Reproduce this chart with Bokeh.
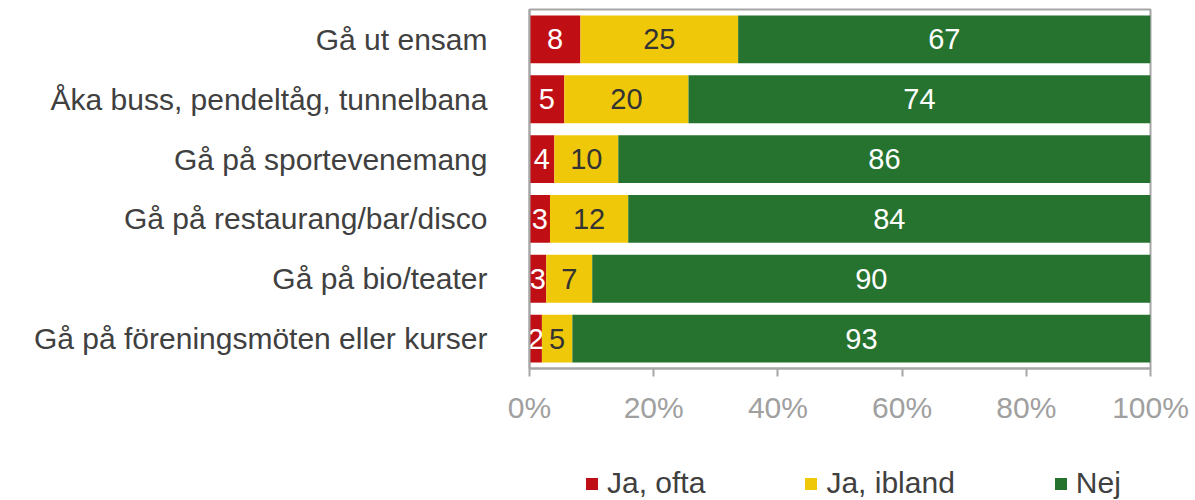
from bokeh.plotting import figure
from bokeh.layouts import column
from bokeh.models import (ColumnDataSource, FactorRange, Range1d, FixedTicker, Legend,
                          LegendItem)
from bokeh.core.properties import value
from bokeh.embed import file_html
from bokeh.resources import INLINE

categories = [
    "Gå ut ensam",
    "Åka buss, pendeltåg, tunnelbana",
    "Gå på sportevenemang",
    "Gå på restaurang/bar/disco",
    "Gå på bio/teater",
    "Gå på föreningsmöten eller kurser",
]
series_names = ["Ja, ofta", "Ja, ibland", "Nej"]
ja_ofta = [8.2, 5.6, 4.0, 3.3, 2.7, 2.0]
ja_ibland = [25.4, 20.0, 10.3, 12.6, 7.4, 4.9]
nej = [66.4, 74.4, 85.7, 84.1, 89.9, 93.1]
ja_ofta_labels = ["8", "5", "4", "3", "3", "2"]
ja_ibland_labels = ["25", "20", "10", "12", "7", "5"]
nej_labels = ["67", "74", "86", "84", "90", "93"]
tick_values = [0, 20, 40, 60, 80, 100]
tick_labels = ["0%", "20%", "40%", "60%", "80%", "100%"]

colors = ["#C00F14", "#F0C80A", "#267330"]
FONT = "Liberation Sans"

source = ColumnDataSource(dict(cat=categories, ja_ofta=ja_ofta, ja_ibland=ja_ibland, nej=nej))

p = figure(
    frame_width=621, frame_height=359,
    y_range=FactorRange(*reversed(categories)),
    x_range=Range1d(0, 100),
    output_backend="svg", toolbar_location=None,
    min_border_left=529, min_border_right=45, min_border_top=9, min_border_bottom=72,
)

p.hbar_stack(["ja_ofta", "ja_ibland", "nej"], y="cat", height=0.8,
             color=colors, line_color=None, source=source)

# data labels
lx, ly, lt, lc = [], [], [], []
for i, c in enumerate(categories):
    a, b, g = ja_ofta[i], ja_ibland[i], nej[i]
    lx += [a / 2, a + b / 2, a + b + g / 2]
    ly += [c, c, c]
    lt += [ja_ofta_labels[i], ja_ibland_labels[i], nej_labels[i]]
    lc += ["white", "#333333", "white"]
lsrc = ColumnDataSource(dict(x=lx, y=ly, t=lt, c=lc))
p.text(x="x", y="y", text="t", text_color="c", source=lsrc,
       text_align="center", text_baseline="middle",
       text_font=value(FONT), text_font_size="29px")

p.grid.visible = False
p.outline_line_color = "#A6A6A6"
p.outline_line_width = 2

xa = p.xaxis[0]
xa.ticker = FixedTicker(ticks=tick_values)
xa.major_label_overrides = {v: l for v, l in zip(tick_values, tick_labels)}
xa.axis_line_color = "#A6A6A6"
xa.axis_line_width = 2
xa.major_tick_line_color = "#A6A6A6"
xa.major_tick_line_width = 2
xa.major_tick_out = 8
xa.major_tick_in = 0
xa.minor_tick_line_color = None
xa.major_label_text_font = FONT
xa.major_label_text_font_size = "30px"
xa.major_label_text_color = "#A0A0A0"
xa.major_label_standoff = 14

ya = p.yaxis[0]
ya.axis_line_color = "#A6A6A6"
ya.axis_line_width = 2
ya.major_tick_line_color = None
ya.minor_tick_line_color = None
ya.major_tick_out = 0
ya.major_label_standoff = 42
ya.major_label_text_font = FONT
ya.major_label_text_font_size = "30px"
ya.major_label_text_color = "#404040"

# legend strip below the chart (same series, hidden, so only the legend shows)
p2 = figure(frame_width=621, height=60,
            x_range=Range1d(1000, 1001), y_range=FactorRange(*categories),
            output_backend="svg", toolbar_location=None,
            min_border_left=529, min_border_right=45, min_border_top=0, min_border_bottom=0)
p2.axis.visible = False
p2.grid.visible = False
p2.outline_line_color = None
legend_renderers = p2.hbar_stack(["ja_ofta", "ja_ibland", "nej"], y="cat", height=0.8,
                                 color=colors, line_color=None, source=source)
for r in legend_renderers:
    r.visible = False
legend = Legend(
    items=[LegendItem(label=n, renderers=[r]) for n, r in zip(series_names, legend_renderers)],
    orientation="horizontal", location=(55, 0),
    padding=0, margin=0, spacing=98,
    glyph_width=15, glyph_height=15, label_standoff=8,
    label_text_font=FONT, label_text_font_size="30px", label_text_color="#404040",
    border_line_color=None, background_fill_alpha=0,
)
p2.add_layout(legend, "center")

layout = column(p, p2, spacing=0)
open("out.html", "w").write(file_html(layout, INLINE))
